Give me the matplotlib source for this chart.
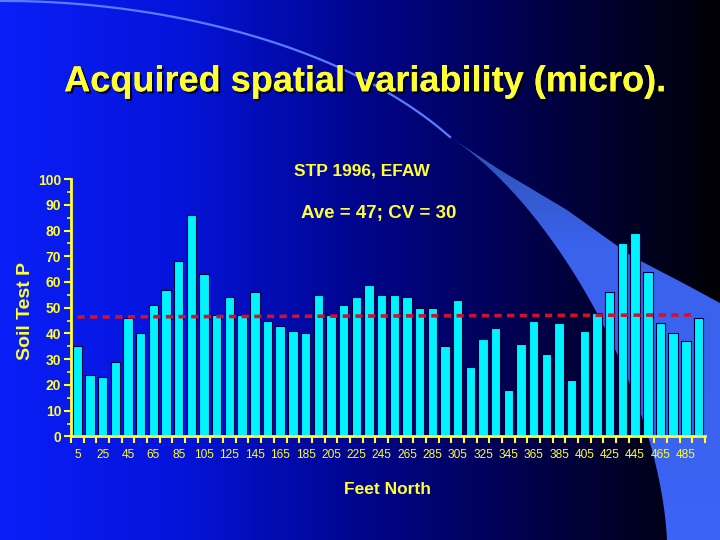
import numpy as np
import matplotlib
matplotlib.use("Agg")
import matplotlib.pyplot as plt
import matplotlib.patheffects as pe
from matplotlib.patches import Polygon
from matplotlib.ticker import FixedLocator, MultipleLocator

# --- data ----------------------------------------------------------------------
feet = list(range(5, 500, 10))          # one bar every 10 ft, 5 .. 495
stp = [35, 24, 23, 29, 46, 40, 51, 57, 68, 86,
       63, 47, 54, 47, 56, 45, 43, 41, 40, 55,
       47, 51, 54, 59, 55, 55, 54, 50, 50, 35,
       53, 27, 38, 42, 18, 36, 45, 32, 44, 22,
       41, 48, 56, 75, 79, 64, 44, 40, 37, 46]
xtick_pos = list(range(5, 490, 20))
xtick_labels = [str(f) for f in xtick_pos]
avg_x = [5, 490]
avg_y = [46.4, 47.2]

slide_title = "Acquired spatial variability (micro)."
chart_title = "STP 1996, EFAW"
stats_text = "Ave = 47; CV = 30"

YELLOW = "#ffff33"
FONT = ["Liberation Sans", "DejaVu Sans"]

W, H = 720, 540
fig = plt.figure(figsize=(7.2, 5.4), dpi=100)


def bezier(p0, p1, p2, p3, n=80):
    t = np.linspace(0, 1, n)[:, None]
    p0, p1, p2, p3 = map(np.asarray, (p0, p1, p2, p3))
    return ((1 - t) ** 3 * p0 + 3 * (1 - t) ** 2 * t * p1
            + 3 * (1 - t) * t ** 2 * p2 + t ** 3 * p3)


# --- slide background (pixel coordinates) --------------------------------------
bg = fig.add_axes([0, 0, 1, 1], zorder=0)
bg.set_xlim(0, W)
bg.set_ylim(H, 0)
bg.axis("off")

xs = np.linspace(0, 1, W)
stops = [0.0, 0.25, 0.5, 0.75, 1.0]
r = np.interp(xs, stops, [10, 5, 0, 0, 0])
g = np.interp(xs, stops, [30, 20, 5, 0, 0])
b = np.interp(xs, stops, [248, 218, 140, 70, 5])
grad = np.stack([r, g, b], axis=-1)[None, :, :].repeat(H, axis=0) / 255.0
bg.imshow(grad, extent=(0, W, H, 0), aspect="auto", zorder=0)

# thin light swoosh across the top
swoosh = bezier((0, 1), (150, 0), (340, 40), (450, 137))
bg.plot(swoosh[:, 0], swoosh[:, 1], color="#5a7cff", lw=1.6, zorder=1)

# lighter wedge on the right
inner = bezier((450, 137), (560, 210), (660, 400), (667, 540))
outer = np.array([(720, 303), (683, 283), (633, 257), (567, 210),
                  (500, 170), (450, 137)])
wedge = Polygon(np.vstack([inner, [(720, 540)], outer]), closed=True,
                facecolor="none", edgecolor="none")
bg.add_patch(wedge)
ys = np.linspace(0, 1, H)[:, None]
wr = np.interp(ys, [0, 0.25, 0.45, 1], [40, 45, 58, 60])
wg = np.interp(ys, [0, 0.25, 0.45, 1], [70, 80, 98, 100])
wb = np.interp(ys, [0, 0.25, 0.45, 1], [150, 170, 235, 245])
wimg = np.concatenate([wr, wg, wb], axis=1)[:, None, :].repeat(W, axis=1) / 255.0
im = bg.imshow(wimg, extent=(0, W, H, 0), aspect="auto", zorder=2)
im.set_clip_path(wedge)

# --- slide title --------------------------------------------------------------
shadow = [pe.withSimplePatchShadow(offset=(1.5, -1.5), shadow_rgbFace="black",
                                   alpha=0.9), pe.Normal()]
fig.text(0.507, 0.831, slide_title, ha="center", va="baseline",
         fontsize=26, fontweight="bold", color=YELLOW, family=FONT,
         path_effects=shadow, zorder=5)

# --- chart ---------------------------------------------------------------------
ax = fig.add_axes([0.0986, 0.1917, 0.8804, 0.4768], zorder=3)
ax.patch.set_alpha(0)

ax.bar(feet, stp, width=7.4, color="#00f4ff", edgecolor="#000040",
       linewidth=0.8, zorder=2)
ax.plot(avg_x, avg_y, color="#d4102c", lw=2.6, dashes=(2.0, 1.5), zorder=3)

ax.set_xlim(0, 500)
ax.set_ylim(0, 100)

for side in ("top", "right"):
    ax.spines[side].set_visible(False)
for side in ("left", "bottom"):
    ax.spines[side].set_color(YELLOW)
    ax.spines[side].set_linewidth(2)

ax.yaxis.set_major_locator(MultipleLocator(10))
ax.yaxis.set_minor_locator(MultipleLocator(5))
ax.tick_params(axis="y", which="major", colors=YELLOW, length=5, width=1.5,
               labelsize=10, pad=2)
ax.tick_params(axis="y", which="minor", colors=YELLOW, length=3, width=1.2)
for lab in ax.get_yticklabels():
    lab.set_fontweight("bold")
    lab.set_family(FONT)

# ticks at bar boundaries, labels under every other bar
ax.xaxis.set_major_locator(MultipleLocator(10))
ax.xaxis.set_minor_locator(FixedLocator(xtick_pos))
ax.set_xticklabels([], minor=False)
ax.set_xticklabels(xtick_labels, minor=True)
ax.tick_params(axis="x", which="major", colors=YELLOW, length=5, width=1.5)
ax.tick_params(axis="x", which="minor", colors=YELLOW, length=0, labelsize=8.6,
               pad=9)
for lab in ax.get_xticklabels(minor=True):
    lab.set_family(FONT)

fig.text(0.503, 0.683, chart_title, ha="center", va="center", fontsize=12.5,
         fontweight="bold", color=YELLOW, family=FONT, zorder=5)
fig.text(0.526, 0.604, stats_text, ha="center", va="center", fontsize=13.5,
         fontweight="bold", color=YELLOW, family=FONT, zorder=5)
fig.text(0.538, 0.0926, "Feet North", ha="center", va="center", fontsize=12.5,
         fontweight="bold", color=YELLOW, family=FONT, zorder=5)
fig.text(0.035, 0.425, "Soil Test P", ha="center", va="center", rotation=90,
         fontsize=14, fontweight="bold", color=YELLOW, family=FONT, zorder=5)

fig.savefig("out.png", dpi=100)
